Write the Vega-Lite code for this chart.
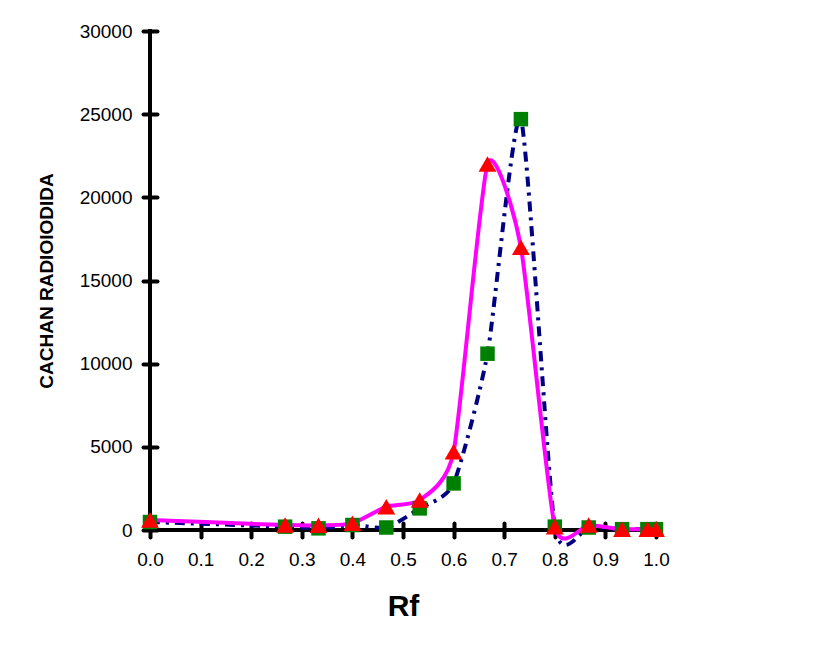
{
  "$schema": "https://vega.github.io/schema/vega-lite/v6.json",
  "width": 506,
  "height": 499,
  "autosize": "none",
  "padding": {"left": 150, "top": 31, "right": 159, "bottom": 124},
  "background": "white",
  "config": {
    "view": {"stroke": null},
    "font": "Liberation Sans",
    "axis": {"grid": false}
  },
  "data": {
    "values": [
      {"rf": 0.0, "a": 480, "b": 600},
      {"rf": 0.267, "a": 200, "b": 300},
      {"rf": 0.333, "a": 100, "b": 280},
      {"rf": 0.4, "a": 300, "b": 400},
      {"rf": 0.467, "a": 150, "b": 1400},
      {"rf": 0.533, "a": 1300, "b": 1800},
      {"rf": 0.6, "a": 2800, "b": 4700},
      {"rf": 0.667, "a": 10600, "b": 22000},
      {"rf": 0.733, "a": 24700, "b": 17000},
      {"rf": 0.8, "a": 200, "b": 200},
      {"rf": 0.867, "a": 150, "b": 300},
      {"rf": 0.933, "a": 50, "b": 50},
      {"rf": 0.983, "a": 50, "b": 50},
      {"rf": 1.0, "a": 50, "b": 50}
    ]
  },
  "layer": [
    {
      "mark": {"type": "rule", "color": "black", "strokeWidth": 4, "strokeCap": "round"},
      "encoding": {"x": {"datum": 0, "type": "quantitative", "scale": {"domain": [0, 1], "nice": false}}}
    },
    {
      "mark": {"type": "rule", "color": "black", "strokeWidth": 4, "strokeCap": "round"},
      "encoding": {"y": {"datum": 0, "type": "quantitative", "scale": {"domain": [0, 30000], "nice": false}}}
    },
    {
      "mark": {"type": "line", "color": "#000080", "strokeWidth": 4, "interpolate": "cardinal", "tension": 0.4, "strokeDash": [10, 6, 3, 6]},
      "encoding": {
        "x": {
          "field": "rf", "type": "quantitative",
          "scale": {"domain": [0, 1], "nice": false},
          "axis": {
            "values": [0, 0.1, 0.2, 0.3, 0.4, 0.5, 0.6, 0.7, 0.8, 0.9, 1.0],
            "format": ".1f", "domain": false, "offset": -7,
            "labelFlush": false, "labelOverlap": false,
            "tickSize": 14, "tickWidth": 4, "tickColor": "black", "tickCap": "round",
            "labelFontSize": 19, "labelColor": "black", "labelPadding": 13, "labelFont": "Liberation Sans",
            "title": "Rf", "titleFontSize": 30, "titleFontWeight": "bold", "titleColor": "black",
            "titleFont": "Liberation Sans", "titlePadding": 22
          }
        },
        "y": {
          "field": "a", "type": "quantitative",
          "scale": {"domain": [0, 30000], "nice": false},
          "axis": {
            "values": [0, 5000, 10000, 15000, 20000, 25000, 30000],
            "format": "d", "domain": false, "offset": -7,
            "labelFlush": false, "labelOverlap": false,
            "tickSize": 14, "tickWidth": 4, "tickColor": "black", "tickCap": "round",
            "labelFontSize": 19, "labelColor": "black", "labelPadding": 11, "labelFont": "Liberation Sans",
            "title": "CACHAN RADIOIODIDA", "titleFontSize": 19, "titleFontWeight": "bold", "titleColor": "black",
            "titleFont": "Liberation Sans", "titlePadding": 23
          }
        }
      }
    },
    {
      "mark": {"type": "line", "color": "#FF00FF", "strokeWidth": 4, "interpolate": "cardinal", "tension": 0.4},
      "encoding": {
        "x": {"field": "rf", "type": "quantitative"},
        "y": {"field": "b", "type": "quantitative"}
      }
    },
    {
      "mark": {"type": "point", "shape": "square", "filled": true, "color": "#008000", "size": 210, "opacity": 1},
      "encoding": {
        "x": {"field": "rf", "type": "quantitative"},
        "y": {"field": "a", "type": "quantitative"}
      }
    },
    {
      "mark": {"type": "point", "shape": "triangle-up", "filled": true, "color": "#FF0000", "size": 320, "opacity": 1},
      "encoding": {
        "x": {"field": "rf", "type": "quantitative"},
        "y": {"field": "b", "type": "quantitative"}
      }
    }
  ]
}
